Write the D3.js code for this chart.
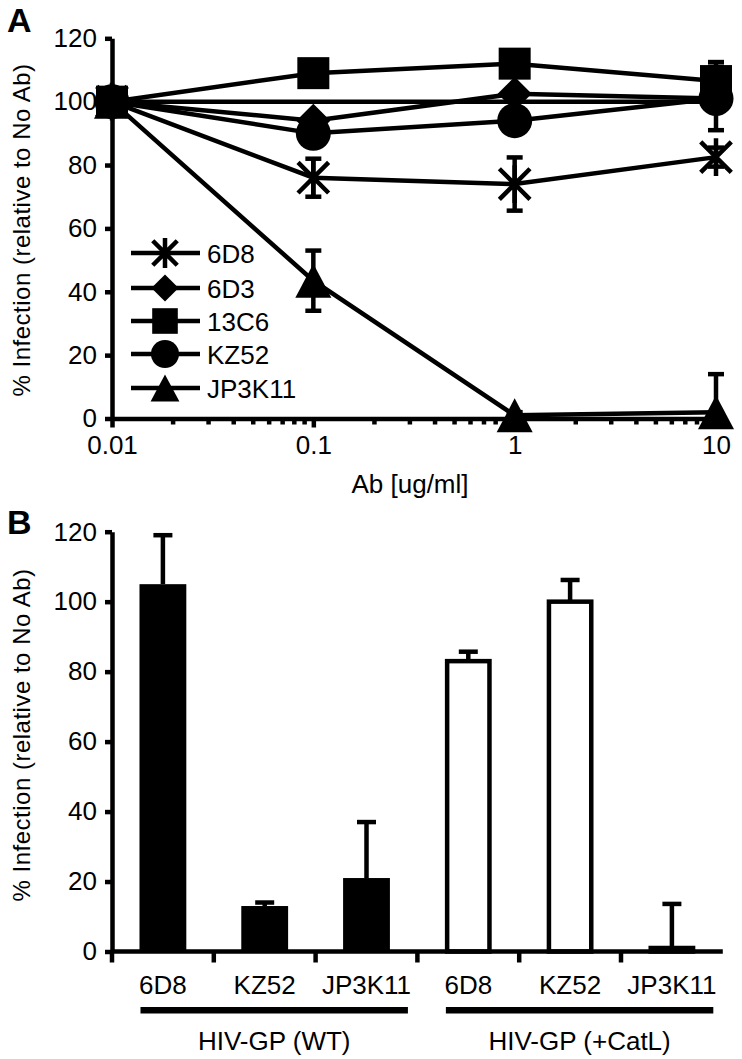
<!DOCTYPE html>
<html><head><meta charset="utf-8">
<script src="https://cdn.jsdelivr.net/npm/d3@7"></script>
<style>
body{margin:0;background:#fff}
text{font-family:"Liberation Sans",Arial,Helvetica,sans-serif;fill:#000}
</style>
</head><body>
<svg id="chart" width="742" height="1059"></svg>
<script>
// ---------- Panel A data ----------
const doses = [0.01, 0.1, 1, 10];
const doseTickLabels = ["0.01", "0.1", "1", "10"];
const minorDoses = [0.02,0.03,0.04,0.05,0.06,0.07,0.08,0.09,0.2,0.3,0.4,0.5,0.6,0.7,0.8,0.9,2,3,4,5,6,7,8,9];
const seriesNames = ["6D8", "6D3", "13C6", "KZ52", "JP3K11"];
const markerTypes = ["asterisk", "diamond", "square", "circle", "triangle"];
const vals6D8   = [100, 76, 74, 82.5];
const err6D8    = [0, 6, 8.4, 3];
const vals6D3   = [100, 94, 102.5, 101];
const err6D3    = [0, 2, 2, 2];
const vals13C6  = [100, 109, 112, 106.5];
const err13C6   = [0, 2, 2, 6];
const valsKZ52  = [100, 90, 94, 101];
const errKZ52   = [0, 3, 3, 10];
const valsJP3K11 = [100, 43.5, 1, 2];
const errJP3K11  = [0, 9.5, 1, 12];
const noAbReference = [100, 100, 100, 100];
const yTicks = [0, 20, 40, 60, 80, 100, 120];

// ---------- Panel B data ----------
const barLabels = ["6D8", "KZ52", "JP3K11", "6D8", "KZ52", "JP3K11"];
const barGroups = ["HIV-GP (WT)", "HIV-GP (+CatL)"];
const barValuesWT = [105, 13, 21];
const barErrWT = [14, 1, 16];
const barValuesCatL = [83, 100, 1];
const barErrCatL = [2.7, 6.2, 12.6];

const seriesVals = [vals6D8, vals6D3, vals13C6, valsKZ52, valsJP3K11];
const seriesErr = [err6D8, err6D3, err13C6, errKZ52, errJP3K11];

const svg = d3.select("#chart");
const SW = 4.5;
const FS = 26;

function marker(g, type, cx, cy, s) {
  const h = s / 2;
  if (type === "square") {
    g.append("rect").attr("x", cx - h).attr("y", cy - h).attr("width", s).attr("height", s).attr("fill", "#000");
  } else if (type === "circle") {
    g.append("circle").attr("cx", cx).attr("cy", cy).attr("r", h).attr("fill", "#000");
  } else if (type === "diamond") {
    g.append("path").attr("d", `M${cx},${cy-h}L${cx+h},${cy}L${cx},${cy+h}L${cx-h},${cy}Z`).attr("fill", "#000");
  } else if (type === "triangle") {
    const w = s * 1.06;
    g.append("path").attr("d", `M${cx},${cy-h}L${cx+w/2},${cy+h}L${cx-w/2},${cy+h}Z`).attr("fill", "#000");
  } else if (type === "asterisk") {
    const a = h * 0.85;
    g.append("path")
      .attr("d", `M${cx-a},${cy-a}L${cx+a},${cy+a}M${cx-a},${cy+a}L${cx+a},${cy-a}M${cx},${cy-h*1.05}L${cx},${cy+h*1.05}`)
      .attr("stroke", "#000").attr("stroke-width", SW).attr("fill", "none");
  }
}

// ================= PANEL A =================
const xA = d3.scaleLog().domain([0.01, 10]).range([112, 716]);
const yA = d3.scaleLinear().domain([0, 120]).range([418.5, 38.3]);
const gA = svg.append("g");

gA.append("text").attr("x", 7).attr("y", 32).attr("font-size", 34).attr("font-weight", "bold").text("A");

const yAxisA = d3.axisLeft(yA).tickValues(yTicks).tickSize(7).tickSizeOuter(0).tickPadding(8).tickFormat(d3.format("d"));
const gyA = gA.append("g").attr("transform", "translate(112,0)").call(yAxisA);
gyA.select(".domain").attr("stroke-width", SW);
gyA.selectAll(".tick line").attr("stroke-width", SW);
gyA.selectAll("text").attr("font-size", FS).attr("font-family", "Liberation Sans, Arial, sans-serif");

const gxAm = gA.append("g").attr("transform", "translate(0,418.5)")
  .call(d3.axisBottom(xA).tickValues(minorDoses).tickSize(6).tickSizeOuter(0).tickFormat(""));
gxAm.select(".domain").attr("stroke-width", SW);
gxAm.selectAll(".tick line").attr("stroke-width", SW);
const gxA = gA.append("g").attr("transform", "translate(0,418.5)")
  .call(d3.axisBottom(xA).tickValues(doses).tickSize(9).tickSizeOuter(0).tickPadding(8)
    .tickFormat((d, i) => doseTickLabels[i]));
gxA.select(".domain").remove();
gxA.selectAll(".tick line").attr("stroke-width", SW);
gxA.selectAll("text").attr("font-size", FS).attr("font-family", "Liberation Sans, Arial, sans-serif");

gA.append("text").attr("x", 410).attr("y", 493).attr("text-anchor", "middle").attr("font-size", FS).text("Ab [ug/ml]");

gA.append("text").attr("transform", "translate(30,230) rotate(-90)").attr("text-anchor", "middle")
  .attr("font-size", 24).attr("letter-spacing", 0.5).text("% Infection (relative to No Ab)");

const line = d3.line().x((d, i) => xA(doses[i])).y(d => yA(d));

gA.append("path").attr("d", line(noAbReference)).attr("stroke", "#000").attr("stroke-width", SW).attr("fill", "none");

seriesVals.forEach(v => {
  gA.append("path").attr("d", line(v)).attr("stroke", "#000").attr("stroke-width", SW).attr("fill", "none");
});
seriesVals.forEach((v, s) => {
  v.forEach((d, i) => {
    const e = seriesErr[s][i];
    if (!e) return;
    const x = xA(doses[i]);
    const lo = Math.max(0, d - e), hi = d + e;
    gA.append("line").attr("x1", x).attr("x2", x).attr("y1", yA(lo)).attr("y2", yA(hi)).attr("stroke", "#000").attr("stroke-width", SW);
    [lo, hi].forEach(t => {
      if (t <= 0) return;
      gA.append("line").attr("x1", x - 8).attr("x2", x + 8).attr("y1", yA(t)).attr("y2", yA(t)).attr("stroke", "#000").attr("stroke-width", SW);
    });
  });
});
const markerSize = {asterisk: 36, diamond: 34, square: 32, circle: 35, triangle: 34};
seriesVals.forEach((v, s) => {
  v.forEach((d, i) => marker(gA, markerTypes[s], xA(doses[i]), yA(d), markerSize[markerTypes[s]]));
});

// legend
const legendY = [253, 288, 321, 354, 388];
seriesNames.forEach((n, i) => {
  const y = legendY[i];
  gA.append("line").attr("x1", 131).attr("x2", 200).attr("y1", y).attr("y2", y).attr("stroke", "#000").attr("stroke-width", SW);
  marker(gA, markerTypes[i], 165, y, markerSize[markerTypes[i]] * 0.8);
  gA.append("text").attr("x", 207).attr("y", y + 9.5).attr("font-size", FS).text(n);
});

// ================= PANEL B =================
const gB = svg.append("g");
const yB = d3.scaleLinear().domain([0, 120]).range([951.5, 531.7]);
const xB = d3.scaleBand().domain(d3.range(barLabels.length)).range([112, 722.8]).paddingInner(0.54).paddingOuter(0.27);

gB.append("text").attr("x", 7).attr("y", 534).attr("font-size", 34).attr("font-weight", "bold").text("B");

const gyB = gB.append("g").attr("transform", "translate(112,0)")
  .call(d3.axisLeft(yB).tickValues(yTicks).tickSize(7).tickSizeOuter(0).tickPadding(8).tickFormat(d3.format("d")));
gyB.select(".domain").attr("stroke-width", SW);
gyB.selectAll(".tick line").attr("stroke-width", SW);
gyB.selectAll("text").attr("font-size", FS).attr("font-family", "Liberation Sans, Arial, sans-serif");

gB.append("text").attr("transform", "translate(30,735) rotate(-90)").attr("text-anchor", "middle")
  .attr("font-size", 24).attr("letter-spacing", 0.5).text("% Infection (relative to No Ab)");

const allVals = barValuesWT.concat(barValuesCatL);
const allErr = barErrWT.concat(barErrCatL);
const bw = xB.bandwidth();

allVals.forEach((v, i) => {
  const x = xB(i);
  const cx = x + bw / 2;
  gB.append("line").attr("x1", cx).attr("x2", cx).attr("y1", yB(v)).attr("y2", yB(v + allErr[i])).attr("stroke", "#000").attr("stroke-width", SW);
  gB.append("line").attr("x1", cx - 9.5).attr("x2", cx + 9.5).attr("y1", yB(v + allErr[i])).attr("y2", yB(v + allErr[i])).attr("stroke", "#000").attr("stroke-width", SW);
  if (i < 3) {
    gB.append("rect").attr("x", x).attr("y", yB(v)).attr("width", bw).attr("height", yB(0) - yB(v)).attr("fill", "#000");
  } else {
    gB.append("rect").attr("x", x + SW / 2).attr("y", yB(v)).attr("width", bw - SW).attr("height", yB(0) - yB(v))
      .attr("fill", "#fff").attr("stroke", "#000").attr("stroke-width", SW);
  }
});

gB.append("line").attr("x1", 112).attr("x2", 722.8).attr("y1", yB(0)).attr("y2", yB(0)).attr("stroke", "#000").attr("stroke-width", SW);
barLabels.forEach((l, i) => {
  const bx = xB(i) + bw / 2 - xB.step() / 2;
  gB.append("line").attr("x1", bx).attr("x2", bx).attr("y1", yB(0)).attr("y2", yB(0) + 11).attr("stroke", "#000").attr("stroke-width", SW);
  gB.append("text").attr("x", xB(i) + bw / 2).attr("y", 994).attr("text-anchor", "middle").attr("font-size", FS).text(l);
});

barGroups.forEach((gname, k) => {
  const first = k * 3, last = k * 3 + 2;
  const x1 = xB(first) + 1, x2 = xB(last) + bw + 18;
  gB.append("rect").attr("x", x1).attr("y", 1007).attr("width", x2 - x1).attr("height", 6.5).attr("fill", "#000");
  gB.append("text").attr("x", (x1 + x2) / 2).attr("y", 1050).attr("text-anchor", "middle").attr("font-size", FS).text(gname);
});
</script>
</body></html>
